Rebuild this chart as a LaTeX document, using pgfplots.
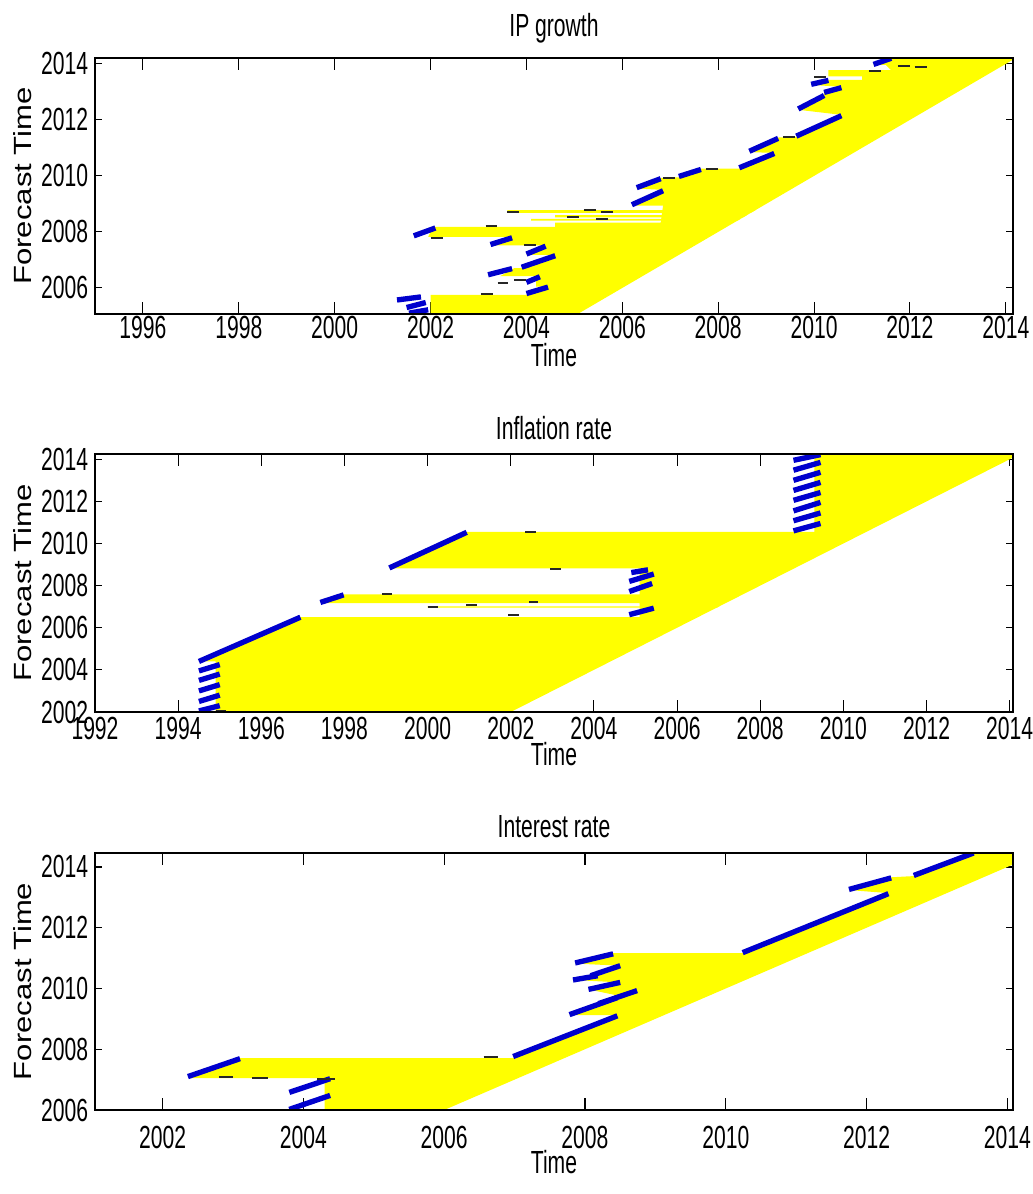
\documentclass[border=0pt]{standalone}
\usepackage{fontspec}
\setmainfont{Liberation Sans}[FakeStretch=0.66]
\newfontfamily\ylabfont{Liberation Sans}
\usepackage{graphicx}
\usepackage{pgfplots}
\pgfplotsset{compat=1.18}
\definecolor{myblue}{RGB}{0,0,205}
\definecolor{myyellow}{RGB}{255,255,0}
\newcommand\tickfont{\fontsize{24}{26}\selectfont}
\newcommand\ylabtext{\scalebox{1}[0.8]{\ylabfont\fontsize{23.3}{26}\selectfont Forecast Time}}
\pgfplotsset{
  panel/.style={
    scale only axis, width=688.5pt,
    axis on top=false, clip mode=individual,
    tick align=inside, xtick pos=both, ytick pos=both,
    scaled ticks=false,
    /pgf/number format/1000 sep={},
    /pgf/number format/assume math mode=true,
    ticklabel style={font=\tickfont, inner sep=0pt},
    xticklabel style={anchor=base},
    yticklabel style={anchor=east, xshift=-5pt},
    xtick style={/pgfplots/major tick length=9pt, line width=0.8pt, color=black},
    ytick style={/pgfplots/major tick length=5.25pt, line width=0.8pt, color=black},
    axis line style={line width=1pt},
    title style={font=\tickfont, anchor=base, at={(axis description cs:0.5,1)}, inner sep=0pt},
    xlabel style={font=\tickfont, anchor=base, at={(axis description cs:0.5,0)}, inner sep=0pt},
    ylabel style={at={(axis description cs:-0.079,0.5)}, anchor=center, inner sep=0pt},
    ylabel={\ylabtext},
    xlabel={Time},
  },
  yfill/.style={fill=myyellow, draw=none, no markers},
  bstroke/.style={draw=myblue, line width=4pt, no markers},
  dstroke/.style={draw=black!85, line width=1.5pt, no markers},
}
\newcommand\bs[4]{\addplot[bstroke] coordinates {(#1,#2) (#3,#4)};}
\newcommand\ds[3]{\addplot[dstroke] coordinates {(#1,#3) (#2,#3)};}
\newcommand\band[3]{\addplot[yfill] coordinates {(#1,#2) (#2,#2) (#3,#3) (#1,#3)} -- cycle;}

\begin{document}
\begin{tikzpicture}
\path[use as bounding box] (0,0) rectangle (774pt,895.5pt);

% ---------------- Panel 1: IP growth ----------------
\begin{axis}[panel, at={(71.25pt,660pt)}, anchor=south west, height=192pt,
  xmin=1995, xmax=2014.15, ymin=2005.07, ymax=2014.21,
  xtick={1996,1998,...,2014}, ytick={2006,2008,...,2014},
  title={IP growth},
  xticklabel style={yshift=-18.4pt},
  title style={yshift=10.1pt},
  xlabel style={yshift=-39.4pt}]
\addplot[yfill] coordinates {
(2002.0,2005.0) (2002.0,2005.75) (2004.0,2005.75) (2004.45,2006.05)
(2004.2,2006.05) (2004.2,2006.42) (2003.45,2006.42) (2003.75,2006.71)
(2003.9,2006.71) (2004.6,2007.18) (2004.0,2007.18) (2004.4,2007.52)
(2003.3,2007.52) (2003.7,2007.82) (2001.95,2007.82) (2002.05,2008.18)
(2004.6,2008.18) (2004.6,2008.33) (2006.8,2008.33) (2006.85,2008.94)
(2006.2,2008.94) (2006.85,2009.5) (2006.3,2009.55) (2006.8,2009.93)
(2007.18,2009.95) (2007.64,2010.26) (2008.44,2010.26) (2009.17,2010.82)
(2008.65,2010.85) (2009.25,2011.37) (2009.63,2011.39) (2010.57,2012.18)
(2009.67,2012.36) (2010.21,2012.9) (2010.21,2012.96) (2010.57,2013.18)
(2009.94,2013.25) (2010.3,2013.43) (2011.0,2013.43) (2011.0,2013.55)
(2010.3,2013.55) (2010.3,2013.78) (2011.6,2013.78) (2011.5,2013.96)
(2011.24,2013.96) (2011.61,2014.3) (2014.3,2014.3) (2005.0,2005.0)
} -- cycle;
\band{2004.1}{2008.40}{2008.47}
\band{2004.6}{2008.52}{2008.60}
\band{2003.6}{2008.68}{2008.78}
\bs{2001.55}{2005.1}{2001.95}{2005.22}
\bs{2001.5}{2005.3}{2001.9}{2005.48}
\bs{2001.3}{2005.57}{2001.8}{2005.68}
\bs{2004.0}{2005.8}{2004.45}{2006.03}
\bs{2004.0}{2006.2}{2004.28}{2006.4}
\bs{2003.2}{2006.47}{2003.7}{2006.69}
\bs{2003.9}{2006.74}{2004.6}{2007.15}
\bs{2004.0}{2007.21}{2004.4}{2007.49}
\bs{2003.25}{2007.55}{2003.7}{2007.79}
\bs{2001.65}{2007.86}{2002.1}{2008.14}
\bs{2006.2}{2008.97}{2006.85}{2009.47}
\bs{2006.3}{2009.58}{2006.8}{2009.9}
\bs{2007.18}{2009.98}{2007.64}{2010.23}
\bs{2008.44}{2010.29}{2009.17}{2010.8}
\bs{2008.65}{2010.88}{2009.25}{2011.34}
\bs{2009.63}{2011.42}{2010.57}{2012.15}
\bs{2009.67}{2012.39}{2010.21}{2012.87}
\bs{2010.21}{2012.98}{2010.57}{2013.15}
\bs{2009.94}{2013.27}{2010.3}{2013.41}
\bs{2011.24}{2013.98}{2011.61}{2014.2}
\ds{2003.05}{2003.3}{2005.78}
\ds{2003.4}{2003.62}{2006.18}
\ds{2003.75}{2004.0}{2006.27}
\ds{2003.95}{2004.2}{2007.52}
\ds{2003.15}{2003.38}{2008.21}
\ds{2002.0}{2002.25}{2007.8}
\ds{2003.6}{2003.85}{2008.72}
\ds{2005.2}{2005.45}{2008.8}
\ds{2005.55}{2005.8}{2008.7}
\ds{2004.85}{2005.1}{2008.52}
\ds{2005.45}{2005.7}{2008.45}
\ds{2006.85}{2007.1}{2009.93}
\ds{2007.75}{2008.0}{2010.26}
\ds{2009.35}{2009.6}{2011.39}
\ds{2010.0}{2010.25}{2013.52}
\ds{2011.15}{2011.4}{2013.75}
\ds{2011.75}{2012.0}{2013.92}
\ds{2012.1}{2012.35}{2013.88}
\draw[line width=1pt] (rel axis cs:0,0) rectangle (rel axis cs:1,1);
\end{axis}

% ---------------- Panel 2: Inflation rate ----------------
\begin{axis}[panel, at={(71.25pt,361.5pt)}, anchor=south west, height=193.5pt,
  xmin=1992, xmax=2014.08, ymin=2002, ymax=2014.25,
  xtick={1992,1994,...,2014}, ytick={2002,2004,...,2014},
  title={Inflation rate},
  xticklabel style={yshift=-21pt},
  title style={yshift=4.9pt},
  xlabel style={yshift=-40pt}]
\addplot[yfill] coordinates {
(1994.9,2001.9) (1994.9,2004.4) (1994.5,2004.4) (1996.94,2006.5)
(2005.1,2006.5) (2005.1,2007.17) (1997.45,2007.17) (1997.98,2007.59)
(2005.1,2007.59) (2005.1,2008.82) (1999.08,2008.82) (2000.94,2010.55)
(2009.3,2010.55) (2009.3,2014.35) (2014.35,2014.35) (2001.9,2001.9)
} -- cycle;
\band{2000.0}{2006.96}{2007.02}
\bs{1994.5}{2002.05}{1995.0}{2002.3}
\bs{1994.5}{2002.5}{1995.0}{2002.8}
\bs{1994.5}{2003.0}{1995.0}{2003.3}
\bs{1994.5}{2003.5}{1995.0}{2003.8}
\bs{1994.5}{2003.95}{1995.0}{2004.25}
\bs{1994.5}{2004.4}{1996.94}{2006.5}
\bs{1997.42}{2007.2}{1997.98}{2007.56}
\bs{1999.08}{2008.84}{2000.94}{2010.53}
\bs{2004.85}{2006.62}{2005.44}{2006.93}
\bs{2004.85}{2007.72}{2005.4}{2008.1}
\bs{2004.85}{2008.2}{2005.44}{2008.55}
\bs{2004.9}{2008.62}{2005.3}{2008.75}
\bs{2008.8}{2010.6}{2009.45}{2010.95}
\bs{2008.8}{2011.08}{2009.45}{2011.45}
\bs{2008.8}{2011.55}{2009.45}{2011.95}
\bs{2008.8}{2012.05}{2009.45}{2012.42}
\bs{2008.8}{2012.52}{2009.45}{2012.9}
\bs{2008.8}{2013.0}{2009.45}{2013.38}
\bs{2008.8}{2013.48}{2009.45}{2013.85}
\bs{2008.8}{2013.95}{2009.45}{2014.22}
\ds{2002.35}{2002.6}{2010.55}
\ds{2002.95}{2003.2}{2008.8}
\ds{1998.9}{1999.15}{2007.62}
\ds{2000.0}{2000.26}{2006.98}
\ds{2000.93}{2001.18}{2007.06}
\ds{2001.94}{2002.2}{2006.6}
\ds{2002.45}{2002.66}{2007.22}
\ds{1994.9}{1995.15}{2002.05}
\draw[line width=1pt] (rel axis cs:0,0) rectangle (rel axis cs:1,1);
\end{axis}

% ---------------- Panel 3: Interest rate ----------------
\begin{axis}[panel, at={(71.25pt,63pt)}, anchor=south west, height=192.75pt,
  xmin=2001.04, xmax=2014.08, ymin=2006, ymax=2014.46,
  xtick={2002,2004,...,2014}, ytick={2006,2008,...,2014},
  title={Interest rate},
  xticklabel style={yshift=-28.9pt},
  title style={yshift=5.6pt},
  xlabel style={yshift=-47.6pt}]
\addplot[yfill] coordinates {
(2004.3,2005.9) (2004.3,2007.05) (2002.4,2007.05) (2003.1,2007.71)
(2006.98,2007.71) (2008.46,2009.12) (2007.78,2009.12) (2008.5,2009.75)
(2008.05,2009.97) (2008.5,2010.2) (2007.83,2010.28) (2008.5,2010.75)
(2007.86,2010.82) (2008.4,2011.16) (2010.24,2011.16) (2012.31,2013.14)
(2011.75,2013.24) (2012.35,2013.66) (2012.67,2013.7) (2013.52,2014.46)
(2013.6,2014.6) (2014.6,2014.6) (2005.9,2005.9)
} -- cycle;
\bs{2003.8}{2006.02}{2004.38}{2006.48}
\bs{2003.8}{2006.58}{2004.38}{2007.03}
\bs{2002.36}{2007.1}{2003.1}{2007.69}
\bs{2006.98}{2007.76}{2008.46}{2009.1}
\bs{2007.78}{2009.14}{2008.46}{2009.7}
\bs{2008.19}{2009.5}{2008.74}{2009.93}
\bs{2008.05}{2009.97}{2008.5}{2010.2}
\bs{2007.83}{2010.28}{2008.18}{2010.42}
\bs{2008.08}{2010.42}{2008.5}{2010.75}
\bs{2007.86}{2010.84}{2008.4}{2011.14}
\bs{2010.24}{2011.18}{2012.31}{2013.12}
\bs{2011.75}{2013.26}{2012.35}{2013.64}
\bs{2012.67}{2013.72}{2013.52}{2014.46}
\ds{2002.8}{2003.0}{2007.08}
\ds{2003.27}{2003.5}{2007.05}
\ds{2004.2}{2004.45}{2007.03}
\ds{2006.56}{2006.77}{2007.74}
\draw[line width=1pt] (rel axis cs:0,0) rectangle (rel axis cs:1,1);
\end{axis}
\end{tikzpicture}
\end{document}
